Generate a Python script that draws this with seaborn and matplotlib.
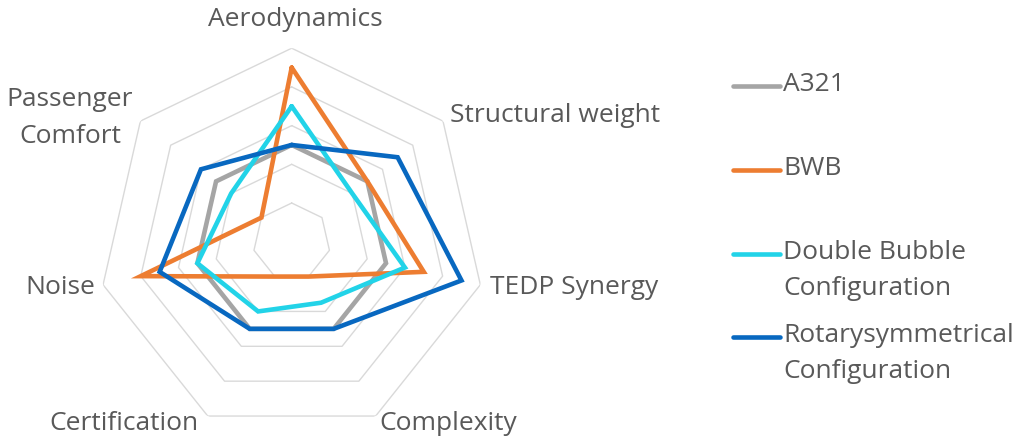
import numpy as np
import pandas as pd
import seaborn as sns
import matplotlib.pyplot as plt
from matplotlib.lines import Line2D

# Radar chart data (0..5 scale)
criteria = ['Aerodynamics', 'Structural weight', 'TEDP Synergy', 'Complexity',
            'Certification', 'Noise', 'Passenger\nComfort']
a321 = [2.5, 2.5, 2.5, 2.5, 2.5, 2.5, 2.5]
bwb = [4.5, 2.5, 3.5, 1.0, 1.0, 4.0, 1.0]
double_bubble = [3.5, 2.0, 3.0, 1.75, 2.0, 2.5, 2.0]
rotary = [2.5, 3.5, 4.5, 2.5, 2.5, 3.5, 3.0]
series_names = ['A321', 'BWB', 'Double Bubble\nConfiguration',
                'Rotarysymmetrical\nConfiguration']
colors = ['#a5a5a5', '#ed7d31', '#22d3e8', '#0868c0']
rings = [1, 2, 3, 4, 5]

sns.set_theme(style='white')
plt.rcParams['font.family'] = ['Open Sans', 'DejaVu Sans']
text_color = '#595959'

n = len(criteria)
angles = np.linspace(0, 2 * np.pi, n, endpoint=False)
theta_closed = np.append(angles, 2 * np.pi)

# Long-form table for seaborn
rows = []
for name, vals in zip(series_names, [a321, bwb, double_bubble, rotary]):
    closed = list(vals) + [vals[0]]
    for t, v in zip(theta_closed, closed):
        rows.append({'theta': t, 'value': v, 'series': name})
df = pd.DataFrame(rows)

W, H = 1018, 441
fig = plt.figure(figsize=(W / 100, H / 100), dpi=100)
cx, cy, R = 291.7, 241.7, 193.5
ax = fig.add_axes([(cx - R) / W, (H - cy - R) / H, 2 * R / W, 2 * R / H],
                  projection='polar')
ax.set_theta_offset(np.pi / 2)
ax.set_theta_direction(-1)
ax.set_ylim(0, 5)
ax.grid(False)
ax.set_xticks([])
ax.set_yticks([])
ax.spines['polar'].set_visible(False)
ax.patch.set_alpha(0)

# Heptagon gridlines
for r in rings:
    ax.plot(theta_closed, [r] * len(theta_closed), color='#d9d9d9', lw=1.0,
            zorder=1)

sns.lineplot(data=df, x='theta', y='value', hue='series', palette=colors,
             hue_order=series_names, sort=False, estimator=None, legend=False,
             linewidth=3.3, solid_joinstyle='miter', ax=ax, zorder=3)
ax.set_xlabel('')
ax.set_ylabel('')

# Category labels (pixel positions)
label_pos = [
    (295, 20, 'center'),
    (450, 115, 'left'),
    (490, 288, 'left'),
    (448, 423, 'center'),
    (124, 423, 'center'),
    (60, 288, 'center'),
    (70, 118, 'center'),
]
for lab, (px, py, ha) in zip(criteria, label_pos):
    fig.text(px / W, 1 - py / H, lab, ha=ha, va='center', fontsize=19,
             color=text_color, linespacing=1.6)

# Legend drawn at the right, handle aligned with the first text line
legend_y = [86, 170, 254, 337]
for name, col, ly in zip(series_names, colors, legend_y):
    fig.add_artist(Line2D([733 / W, 780 / W], [1 - ly / H, 1 - ly / H],
                          color=col, lw=3.3, solid_capstyle='round'))
    fig.text(783 / W, 1 - (ly - 14) / H, name, ha='left', va='top',
             fontsize=19, color=text_color, linespacing=1.6)

fig.savefig('out.png', dpi=100)
